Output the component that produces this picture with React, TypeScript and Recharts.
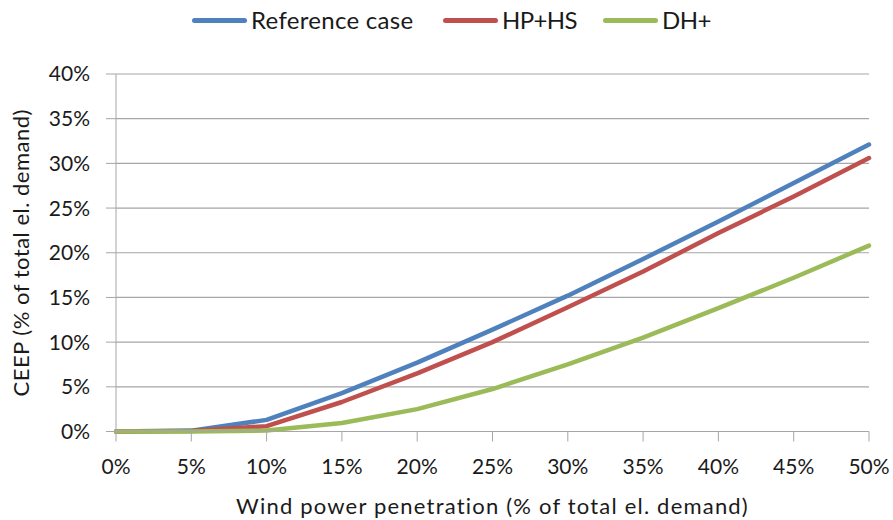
import React from 'react';
import { LineChart, Line, XAxis, YAxis, CartesianGrid, Legend, Label } from 'recharts';

const penetration = [0, 5, 10, 15, 20, 25, 30, 35, 40, 45, 50];
const referenceCase = [0, 0.1, 1.3, 4.3, 7.7, 11.4, 15.2, 19.3, 23.5, 27.8, 32.1];
const hpHs = [0, 0.05, 0.6, 3.3, 6.5, 10.0, 13.9, 17.9, 22.2, 26.3, 30.6];
const dhPlus = [0, 0, 0.1, 0.95, 2.5, 4.75, 7.5, 10.5, 13.8, 17.2, 20.8];
const yTicks = [0, 5, 10, 15, 20, 25, 30, 35, 40];
const xTicks = [0, 5, 10, 15, 20, 25, 30, 35, 40, 45, 50];

const seriesInfo = [
  { key: 'ref', name: 'Reference case', color: '#4F81BD' },
  { key: 'hp', name: 'HP+HS', color: '#C0504D' },
  { key: 'dh', name: 'DH+', color: '#9BBB59' },
];
const legendLineX = [192, 443, 603];

const data = penetration.map((x, i) => ({ x, ref: referenceCase[i], hp: hpHs[i], dh: dhPlus[i] }));

const FONT = 'Lato, "Open Sans", sans-serif';
const GRID = '#A6A6A6';
const TEXT = '#1a1a1a';

const LegendContent = () => (
  <div style={{ height: 74, position: 'relative', width: 893, fontFamily: FONT, fontSize: 24, color: TEXT }}>
    {seriesInfo.map((s, i) => (
      <div key={s.key} style={{ position: 'absolute', top: 6, left: legendLineX[i], display: 'flex', alignItems: 'center', height: 28 }}>
        <div style={{ width: 55, height: 5, borderRadius: 3, background: s.color, marginRight: 4 }} />
        <span style={{ lineHeight: '28px', letterSpacing: i === 0 ? 0.3 : -0.6 }}>{s.name}</span>
      </div>
    ))}
  </div>
);

export default function App() {
  return (
    <div style={{ position: 'absolute', left: 0, top: 0, width: 893, height: 520, background: '#fff' }}>
      <LineChart width={893} height={520} data={data} margin={{ top: 0, right: 24, left: 0, bottom: 0 }}>
        <Legend verticalAlign="top" content={<LegendContent />} wrapperStyle={{ left: 0, top: 0, width: 893 }} />
        <CartesianGrid horizontal={true} vertical={false} stroke={GRID} strokeWidth={1.2} />
        <XAxis
          dataKey="x"
          type="number"
          domain={[0, 50]}
          ticks={xTicks}
          tickFormatter={(v) => `${v}%`}
          height={88.5}
          tickSize={10}
          tickMargin={18}
          stroke={GRID}
          tick={{ fill: TEXT, fontSize: 21, fontFamily: FONT }}
          interval={0}
        >
          <Label value="Wind power penetration (% of total el. demand)" position="insideBottom" offset={6} style={{ fill: TEXT, fontSize: 22, fontFamily: FONT, letterSpacing: 1.2 }} />
        </XAxis>
        <YAxis
          type="number"
          domain={[0, 40]}
          ticks={yTicks}
          tickFormatter={(v) => `${v}%`}
          width={116}
          tickSize={10}
          tickMargin={16}
          stroke={GRID}
          tick={{ fill: TEXT, fontSize: 21, fontFamily: FONT }}
          interval={0}
        >
          <Label value="CEEP (% of total el. demand)" angle={-90} position="insideLeft" offset={21} style={{ textAnchor: 'middle', fill: TEXT, fontSize: 22, fontFamily: FONT, letterSpacing: 0.5 }} />
        </YAxis>
        {seriesInfo.map((s) => (
          <Line key={s.key} type="linear" dataKey={s.key} name={s.name} stroke={s.color} strokeWidth={4.5} dot={false} isAnimationActive={false} strokeLinecap="round" strokeLinejoin="round" />
        ))}
      </LineChart>
    </div>
  );
}
